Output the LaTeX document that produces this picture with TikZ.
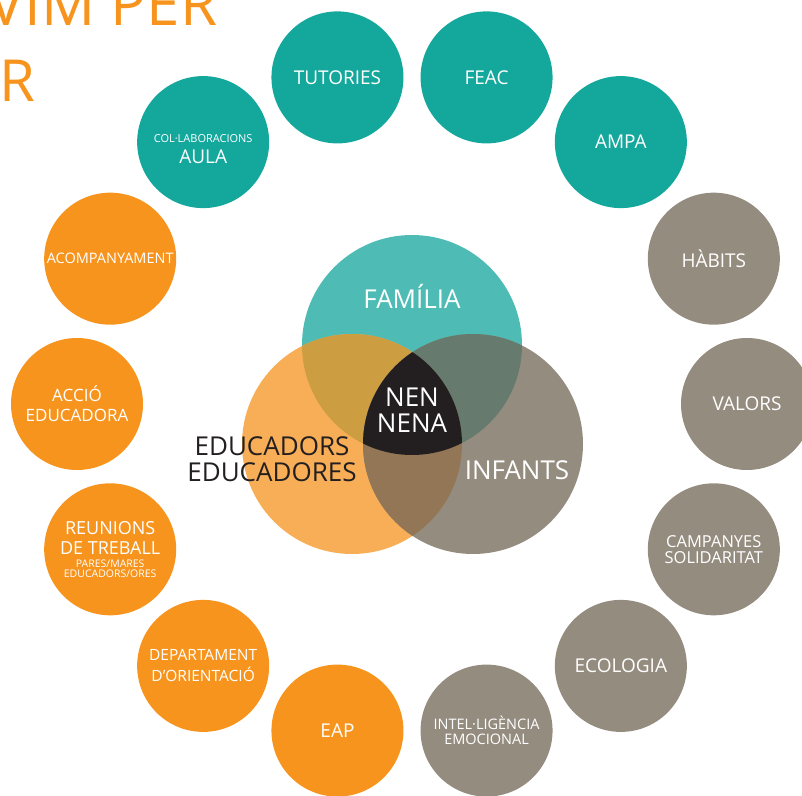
\documentclass[tikz,border=0pt]{standalone}
\usepackage{fontspec}
\setmainfont{Open Sans}
\usetikzlibrary{calc}

\definecolor{ringteal}{HTML}{14A89D}
\definecolor{ringorange}{HTML}{F7941E}
\definecolor{ringgray}{HTML}{958C80}
\definecolor{famteal}{HTML}{4EBCB5}
\definecolor{eduorange}{HTML}{F8AE56}
\definecolor{infgray}{HTML}{958C80}
\definecolor{famedu}{HTML}{CD9D42}
\definecolor{faminf}{HTML}{667A6E}
\definecolor{eduinf}{HTML}{927656}
\definecolor{nenblack}{HTML}{231F20}

\newcommand{\fs}[2]{\fontsize{#1}{#2}\selectfont}

\begin{document}
\begin{tikzpicture}[x=1pt, y=1pt,
  ring/.style={circle, minimum size=132pt, inner sep=0pt, text=white, align=center},
  venntext/.style={align=center, font=\fs{26}{26}}]

\useasboundingbox (0,0) rectangle (802,795);

% titol retallat
\node[anchor=base east, text=ringorange, font=\fs{60}{60}] (titolA) at (221,769) {VIM PER};
\node[anchor=base west, text=ringorange, font=\fs{58}{58}] (titolB) at (-4,693) {R};

% cercles de l'anell (14)
\coordinate (ctr) at (412,391);
\foreach \ang/\col/\fnt/\txt [count=\i] in {
  102.86/ringteal/{\fs{19}{22}}/{TUTORIES},
  77.14/ringteal/{\fs{19}{22}}/{FEAC},
  51.43/ringteal/{\fs{19}{22}}/{AMPA},
  25.71/ringgray/{\fs{19}{22}}/{HÀBITS},
  0/ringgray/{\fs{19}{22}}/{VALORS},
  -25.71/ringgray/{\fs{16.5}{16}}/{CAMPANYES\\SOLIDARITAT},
  -51.43/ringgray/{\fs{19}{22}}/{ECOLOGIA},
  -77.14/ringgray/{\fs{14.5}{15}}/{INTEL·LIGÈNCIA\\EMOCIONAL},
  -102.86/ringorange/{\fs{19}{22}}/{EAP},
  -128.57/ringorange/{\fs{15.5}{21}}/{DEPARTAMENT\\D’ORIENTACIÓ},
  -154.29/ringorange/{\fs{18}{20}}/{REUNIONS\\DE TREBALL\\[-7pt]\fs{10.5}{10}PARES/MARES\\[-10pt]\fs{10.5}{10}EDUCADORS/ORES},
  180/ringorange/{\fs{17}{20}}/{ACCIÓ\\EDUCADORA},
  154.29/ringorange/{\fs{14.5}{16}}/{ACOMPANYAMENT},
  128.57/ringteal/{\fs{19}{20}}/{\strut\\[-12pt]\fs{11}{12}COL·LABORACIONS\\[1pt]AULA}} {
  \node[ring, fill=\col, font=\fnt] (r\i) at ($(ctr)+(\ang:335)$) {\txt};
}

% diagrama de Venn
\coordinate (fam) at (412,450);
\coordinate (edu) at (352,351);
\coordinate (inf) at (473,351);
\fill[famteal] (fam) circle (110pt);
\fill[eduorange] (edu) circle (110pt);
\fill[infgray] (inf) circle (110pt);
\begin{scope}
  \clip (fam) circle (110pt);
  \fill[famedu] (edu) circle (110pt);
  \fill[faminf] (inf) circle (110pt);
\end{scope}
\begin{scope}
  \clip (edu) circle (110pt);
  \fill[eduinf] (inf) circle (110pt);
\end{scope}
\begin{scope}
  \clip (fam) circle (110pt);
  \clip (edu) circle (110pt);
  \fill[nenblack] (inf) circle (110pt);
\end{scope}

\node[venntext, text=white] (familia) at (412,499) {FAMÍLIA};
\node[venntext, text=white] (nen) at (412,385) {NEN\\NENA};
\node[venntext, text=nenblack] (educadors) at (272,336) {EDUCADORS\\EDUCADORES};
\node[venntext, text=white] (infants) at (517,325) {INFANTS};

\end{tikzpicture}
\end{document}
